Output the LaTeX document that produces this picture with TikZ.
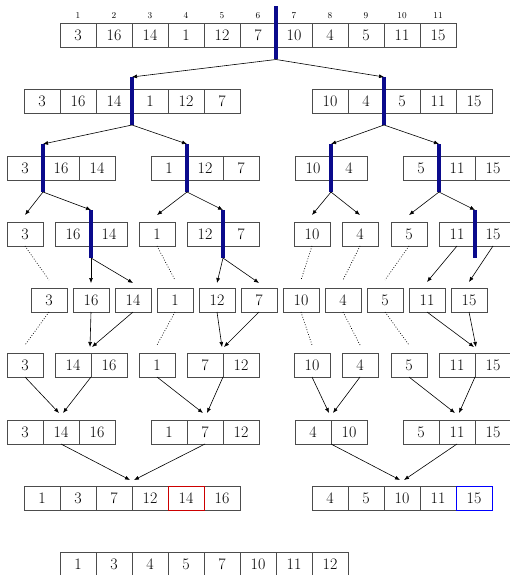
\documentclass[tikz,border=0pt]{standalone}
\usetikzlibrary{arrows.meta,positioning}
\definecolor{barblue}{RGB}{10,10,140}
\tikzset{
  cell/.style={draw=black!70, line width=0.9pt, minimum width=36pt, minimum height=24pt,
    inner sep=0pt, outer sep=0pt, font=\fontsize{16}{19}\selectfont},
  idx/.style={inner sep=0pt, font=\fontsize{9}{11}\selectfont},
  bar/.style={barblue, line width=3.5pt},
  arr/.style={-{Latex[length=5pt,width=4pt]}, line width=0.6pt},
  dots/.style={dash pattern=on 0.8pt off 1.8pt, line width=0.7pt}
}
\newcommand\cellrow[4]{\foreach \v [count=\i] in {#4} \node[cell] (#1\i) at ({#2+36*(\i-1)},#3) {\v};}
\newcommand\splitbar[2]{%
  \coordinate (#1t) at ([yshift=12pt]#2.north east);
  \coordinate (#1b) at ([yshift=-12pt]#2.south east);
  \draw[bar] (#1t) -- (#1b);}
\begin{document}
\begin{tikzpicture}[x=1pt,y=-1pt]
\useasboundingbox (0,0) rectangle (510,575);
\cellrow{r1a}{78}{35.5}{3,16,14,1,12,7,10,4,5,11,15}
\foreach \i in {1,...,11} \node[idx, above=5pt of r1a\i] (ix\i) {\i};
\cellrow{r2a}{42}{101}{3,16,14,1,12,7}
\cellrow{r2b}{330}{101}{10,4,5,11,15}
\cellrow{r3a}{25}{168}{3,16,14}
\cellrow{r3b}{169}{168}{1,12,7}
\cellrow{r3c}{313}{168}{10,4}
\cellrow{r3d}{421}{168}{5,11,15}
\cellrow{r4a}{25}{234}{3}
\cellrow{r4b}{73}{234}{16,14}
\cellrow{r4c}{157}{234}{1}
\cellrow{r4d}{205}{234}{12,7}
\cellrow{r4e}{312}{234}{10}
\cellrow{r4f}{360}{234}{4}
\cellrow{r4g}{409}{234}{5}
\cellrow{r4h}{457}{234}{11,15}
\foreach \v [count=\i] in {3,16,14,1,12,7,10,4,5,11,15} \node[cell] (r5a\i) at ({7+42*\i},300) {\v};
\cellrow{r6a}{25}{365}{3}
\cellrow{r6b}{73}{365}{14,16}
\cellrow{r6c}{157}{365}{1}
\cellrow{r6d}{205}{365}{7,12}
\cellrow{r6e}{312}{365}{10}
\cellrow{r6f}{360}{365}{4}
\cellrow{r6g}{409}{365}{5}
\cellrow{r6h}{457}{365}{11,15}
\cellrow{r7a}{25}{432}{3,14,16}
\cellrow{r7b}{169}{432}{1,7,12}
\cellrow{r7c}{313}{432}{4,10}
\cellrow{r7d}{421}{432}{5,11,15}
\cellrow{r8a}{42}{498}{1,3,7,12,14,16}
\cellrow{r8b}{330}{498}{4,5,10,11,15}
\cellrow{r9a}{78}{564}{1,3,4,5,7,10,11,12}
\draw[red!80!black, line width=0.9pt] (r8a5.south west) rectangle (r8a5.north east);
\draw[blue, line width=0.9pt] (r8b5.south west) rectangle (r8b5.north east);
\coordinate (s1t) at ([yshift=17pt]r1a6.north east);
\coordinate (s1b) at ([yshift=-12pt]r1a6.south east);
\draw[bar] (s1t) -- (s1b);
\splitbar{s2l}{r2a3}
\splitbar{s2r}{r2b2}
\splitbar{s3a}{r3a1}
\splitbar{s3b}{r3b1}
\splitbar{s3c}{r3c1}
\splitbar{s3d}{r3d1}
\splitbar{s4b}{r4b1}
\splitbar{s4d}{r4d1}
\splitbar{s4h}{r4h1}
\draw[arr] (s1b) -- (s2lt);
\draw[arr] (s1b) -- (s2rt);
\draw[arr] (s2lb) -- (s3at);
\draw[arr] (s2lb) -- (s3bt);
\draw[arr] (s2rb) -- (s3ct);
\draw[arr] (s2rb) -- (s3dt);
\draw[arr] (s3ab) -- ([yshift=7pt]r4a1.north);
\draw[arr] (s3ab) -- (s4bt);
\draw[arr] (s3bb) -- ([yshift=7pt]r4c1.north);
\draw[arr] (s3bb) -- (s4dt);
\draw[arr] (s3cb) -- ([yshift=7pt]r4e1.north);
\draw[arr] (s3cb) -- ([yshift=7pt]r4f1.north);
\draw[arr] (s3db) -- ([yshift=7pt]r4g1.north);
\draw[arr] (s3db) -- (s4ht);
\draw[dots] (r4a1.south) -- ([yshift=8pt]r5a1.north);
\draw[arr] (s4bb) -- ([yshift=5pt]r5a2.north);
\draw[arr] (s4bb) -- ([yshift=5pt]r5a3.north);
\draw[dots] (r4c1.south) -- ([yshift=8pt]r5a4.north);
\draw[arr] (s4db) -- ([yshift=5pt]r5a5.north);
\draw[arr] (s4db) -- ([yshift=5pt]r5a6.north);
\draw[dots] (r4e1.south) -- ([yshift=8pt]r5a7.north);
\draw[dots] (r4f1.south) -- ([yshift=8pt]r5a8.north);
\draw[dots] (r4g1.south) -- ([yshift=8pt]r5a9.north);
\draw[arr] (r4h1.south) -- ([yshift=6pt]r5a10.north);
\draw[arr] (r4h2.south) -- ([yshift=6pt]r5a11.north);
\draw[dots] (r5a1.south) -- ([yshift=8pt]r6a1.north);
\draw[arr] (r5a2.south) -- ([xshift=-1pt,yshift=6pt]r6b1.north east);
\draw[arr] (r5a3.south) -- ([xshift=1pt,yshift=6pt]r6b1.north east);
\draw[dots] (r5a4.south) -- ([yshift=8pt]r6c1.north);
\draw[arr] (r5a5.south) -- ([xshift=-1pt,yshift=6pt]r6d1.north east);
\draw[arr] (r5a6.south) -- ([xshift=1pt,yshift=6pt]r6d1.north east);
\draw[dots] (r5a7.south) -- ([yshift=8pt]r6e1.north);
\draw[dots] (r5a8.south) -- ([yshift=8pt]r6f1.north);
\draw[dots] (r5a9.south) -- ([yshift=8pt]r6g1.north);
\draw[arr] (r5a10.south) -- ([xshift=-1pt,yshift=6pt]r6h1.north east);
\draw[arr] (r5a11.south) -- ([xshift=1pt,yshift=6pt]r6h1.north east);
\draw[arr] (r6a1.south) -- ([xshift=-2pt,yshift=7pt]r7a2.north);
\draw[arr] (r6b1.south east) -- ([xshift=2pt,yshift=7pt]r7a2.north);
\draw[arr] (r6c1.south) -- ([xshift=-2pt,yshift=7pt]r7b2.north);
\draw[arr] (r6d1.south east) -- ([xshift=2pt,yshift=7pt]r7b2.north);
\draw[arr] (r6e1.south) -- ([xshift=-2pt,yshift=7pt]r7c1.north east);
\draw[arr] (r6f1.south) -- ([xshift=2pt,yshift=7pt]r7c1.north east);
\draw[arr] (r6g1.south) -- ([xshift=-2pt,yshift=7pt]r7d2.north);
\draw[arr] (r6h1.south east) -- ([xshift=2pt,yshift=7pt]r7d2.north);
\draw[arr] (r7a2.south) -- ([xshift=-2pt,yshift=6pt]r8a3.north east);
\draw[arr] (r7b2.south) -- ([xshift=2pt,yshift=6pt]r8a3.north east);
\draw[arr] (r7c1.south east) -- ([xshift=-2pt,yshift=6pt]r8b3.north);
\draw[arr] (r7d2.south) -- ([xshift=2pt,yshift=6pt]r8b3.north);
\end{tikzpicture}
\end{document}
